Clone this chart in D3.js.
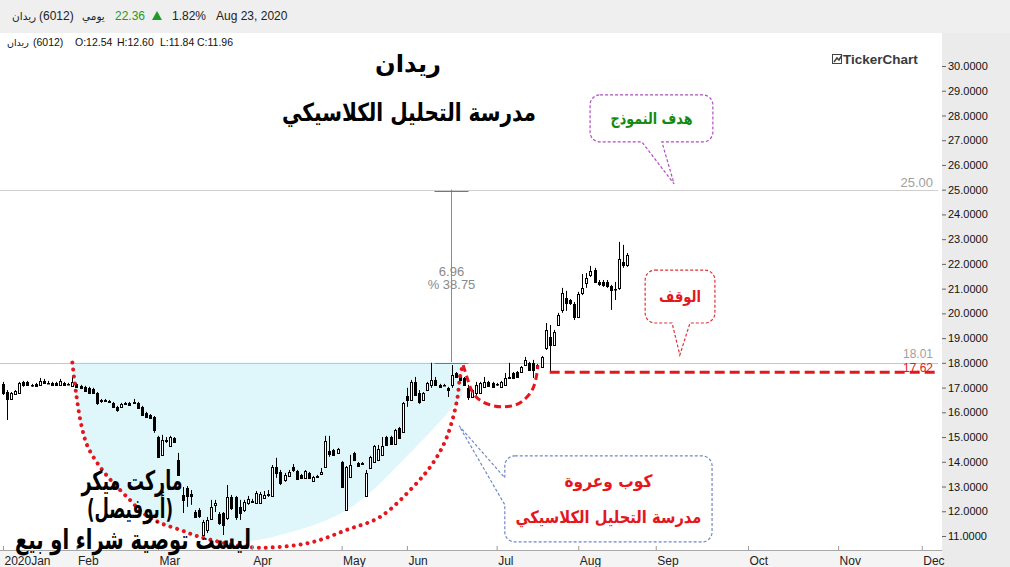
<!DOCTYPE html>
<html>
<head>
<meta charset="utf-8">
<script src="https://cdn.jsdelivr.net/npm/d3@7"></script>
<style>
  body { margin: 0; background: #fff; }
  svg { display: block; }
  text { font-family: "Liberation Sans", Arial, sans-serif; }
  .ar { font-family: "DejaVu Sans", sans-serif; }
</style>
</head>
<body>
<div id="chart"></div>
<script>
// daily candles, 2020-01 .. 2020-08-23 (one entry per trading day)
var opens  = [17.15,16.82,16.54,16.74,16.78,17.23,17.23,17.09,17.15,17.11,17.27,17.19,17.19,17.19,17.11,17.19,17.15,17.07,17.15,17.07,
              17.03,16.99,16.94,16.78,16.46,16.50,16.46,16.38,16.22,16.22,16.34,16.38,16.38,16.38,16.22,15.98,15.89,15.81,15.00,14.28,
              14.84,14.64,14.96,14.08,12.66,12.94,12.70,11.97,12.05,11.04,11.25,11.69,12.26,11.89,11.93,11.73,12.58,12.58,12.18,12.05,
              12.34,12.38,12.34,12.34,12.54,12.66,12.62,13.79,13.59,13.27,13.43,13.79,13.63,13.47,13.35,13.55,13.23,13.39,13.51,13.79,
              14.44,14.48,14.36,13.99,12.05,13.39,14.36,13.95,13.95,12.62,13.75,13.99,14.08,14.28,15.00,15.00,14.72,15.37,15.21,16.66,
              16.50,17.23,16.78,16.50,16.90,17.11,17.31,17.11,17.11,16.99,17.11,17.59,17.43,17.39,16.99,16.62,16.78,16.78,17.03,17.23,
              17.19,17.15,17.03,17.11,17.43,17.59,17.63,17.63,17.91,18.00,18.00,17.91,17.83,18.60,19.05,18.72,19.53,20.14,20.62,20.54,
              20.38,19.86,20.83,21.23,21.55,21.75,21.27,21.27,21.27,21.11,20.99,21.03,22.08,21.96];
var highs  = [17.23,16.90,16.82,16.90,17.23,17.27,17.27,17.15,17.19,17.39,17.35,17.27,17.23,17.23,17.35,17.23,17.19,17.43,17.19,17.11,
              17.07,17.03,16.99,16.82,16.54,16.54,16.50,16.42,16.26,16.38,16.42,16.42,16.54,16.42,16.26,16.02,15.93,15.85,15.05,15.09,
              15.00,15.05,15.00,14.36,12.98,13.02,12.86,12.05,12.13,11.65,11.77,12.46,12.46,11.97,11.97,13.06,12.66,12.62,12.46,12.46,
              12.62,12.50,12.82,12.78,12.82,12.86,13.87,14.16,13.67,13.55,13.67,13.91,13.67,13.51,13.67,13.59,13.43,13.47,13.75,15.05,
              15.05,14.52,14.56,14.03,13.83,14.28,14.40,13.99,13.99,13.67,14.24,14.68,14.68,15.00,15.05,15.05,15.33,15.41,16.42,16.99,
              17.31,17.43,16.90,16.82,17.23,18.00,17.43,17.15,17.15,17.03,17.91,17.63,17.47,17.43,17.11,16.94,17.23,17.23,17.43,17.27,
              17.23,17.19,17.27,17.59,18.00,17.63,17.67,17.87,18.24,18.04,18.12,17.95,18.28,19.61,19.53,19.33,20.02,21.03,20.91,20.58,
              20.46,20.87,21.59,21.63,21.92,21.84,21.35,21.35,21.35,21.15,21.27,22.89,22.77,22.44];
var lows   = [16.70,15.69,16.50,16.70,16.74,17.03,17.07,17.03,17.03,17.07,17.15,17.15,17.07,17.07,17.07,17.07,17.11,17.03,16.99,16.94,
              16.82,16.74,16.74,16.30,16.38,16.42,16.38,16.18,16.02,16.18,16.30,16.26,16.34,16.14,15.85,15.77,15.73,15.17,14.16,14.24,
              14.76,14.60,14.76,13.43,11.93,12.18,12.26,11.73,11.73,10.96,11.12,11.65,11.97,11.45,11.04,11.65,12.05,11.65,11.65,11.97,
              12.26,12.34,12.30,12.30,12.50,12.58,12.58,13.35,13.06,13.19,13.39,13.59,13.27,13.31,13.31,13.31,13.19,13.35,13.47,13.75,
              14.20,14.24,14.32,12.94,12.01,13.35,14.03,13.79,13.87,12.58,13.71,13.95,14.03,14.24,14.64,14.68,14.68,14.92,15.17,16.22,
              16.46,16.66,16.34,16.46,16.86,16.99,17.07,16.99,17.07,16.62,16.99,17.39,17.27,17.07,16.50,16.58,16.58,16.74,16.99,17.03,
              16.99,17.07,16.99,17.07,17.35,17.35,17.39,17.59,17.87,17.67,17.39,17.75,17.79,18.52,17.62,18.68,19.49,20.02,20.10,20.34,
              19.73,19.81,20.74,21.03,21.47,21.23,21.11,21.07,21.03,20.14,20.54,20.95,21.84,21.88];
var closes = [16.78,16.54,16.78,16.86,17.19,17.11,17.11,17.07,17.07,17.27,17.19,17.17,17.11,17.11,17.27,17.11,17.13,17.23,17.03,16.99,
              16.86,16.78,16.78,16.38,16.50,16.46,16.42,16.22,16.10,16.34,16.38,16.30,16.42,16.18,15.89,15.81,15.77,15.29,14.20,14.88,
              14.88,15.00,14.80,13.47,12.46,12.62,12.62,11.77,11.81,11.57,11.65,12.18,12.34,11.53,11.45,12.58,12.13,11.77,11.93,12.38,
              12.50,12.42,12.74,12.70,12.66,12.70,13.79,13.55,13.15,13.47,13.59,13.67,13.31,13.35,13.63,13.35,13.39,13.43,13.59,14.84,
              14.32,14.28,14.52,12.98,13.79,13.87,14.08,13.83,13.91,13.55,14.20,14.64,14.52,14.64,14.68,14.72,15.29,14.96,16.38,16.50,
              17.23,16.70,16.42,16.78,17.19,17.31,17.11,17.03,17.09,16.90,17.51,17.43,17.31,17.11,16.62,16.90,17.11,17.19,17.23,17.07,
              17.03,17.13,17.23,17.39,17.39,17.39,17.43,17.83,18.12,17.71,17.71,17.79,18.24,19.33,18.72,19.25,19.94,20.83,20.42,20.42,
              19.86,20.78,21.03,21.43,21.71,21.27,21.19,21.15,21.11,20.95,20.97,22.20,21.96,22.36];

// x axis: month labels and the candle index where each month starts
var monthLabels = ["2020Jan", "Feb", "Mar", "Apr", "May", "Jun", "Jul", "Aug", "Sep", "Oct", "Nov", "Dec"];
var monthIndex  = [0, 18, 38, 61, 83, 99, 121, 141, 160, 182.6, 204.7, 225.2];
var yTicks = d3.range(11, 31);

// drawn levels
var targetLevel = 25.00, breakoutLevel = 18.01, stopLevel = 17.62, stopIndex = 134;
var measureIndex = 110, measureFrom = 18.04, measureTo = 25.00;
var measureText = ["6.96", "% 38.75"];

// cup (dotted) and handle (dashed) drawn on the chart: [index, price]
var cupArc = [[17,18.01],[17.9,16.78],[19.3,15.41],[20.8,14.6],[23.8,13.79],[27,13.15],[31.1,12.46],[34.3,11.93],
              [38.5,11.53],[43.4,11.25],[48.3,10.96],[59.8,10.56],[67.9,10.56],[76,10.76],[84.3,11.25],[92.4,11.77],
              [100.5,12.98],[105.4,13.95],[108.8,15.0],[111.3,16.5],[112,17.43],[112.7,17.91]];
var handleArc = [[112.8,17.91],[113.7,17.43],[115.2,16.78],[117.6,16.42],[122.3,16.22],[126.7,16.38],[129.7,16.9],[130.9,17.59],[131.1,17.91]];
var cupFill = [[17,18.01],[17.9,16.78],[19.3,15.41],[20.8,14.6],[23.8,13.79],[27,13.15],[31.1,12.46],[34.3,11.93],
               [38.5,11.53],[43.4,11.25],[48.3,10.96],[59.8,10.8],[67.9,11.04],[84.3,12.05],[100.5,14.48],[110.3,16.22],[112.5,16.7],[112.5,18.01]];

// header
var headerName = "ريدان", headerCode = "(6012)", headerPeriod = "يومي", lastPrice = "22.36", changePct = "1.82%", lastDate = "Aug 23, 2020";
var ohlcLabels = ["O:12.54", "H:12.60", "L:11.84", "C:11.96"];

var W = 1010, H = 567;
var plotRight = 942, plotTop = 34, plotBottom = 550;

var svg = d3.select("#chart").append("svg").attr("width", W).attr("height", H);

var x = d3.scaleLinear().domain([0, 153]).range([3, 627.2]);
var y = d3.scaleLinear().domain([11, 30]).range([536, 66]);

// backgrounds
svg.append("rect").attr("x", 0).attr("y", 0).attr("width", W).attr("height", H).attr("fill", "#fff");
svg.append("rect").attr("x", 0).attr("y", 0).attr("width", W).attr("height", plotTop - 1).attr("fill", "#efefef");
svg.append("rect").attr("x", plotRight).attr("y", plotTop - 1).attr("width", W - plotRight).attr("height", H).attr("fill", "#ebebeb");
svg.append("rect").attr("x", 0).attr("y", plotBottom).attr("width", plotRight).attr("height", H - plotBottom).attr("fill", "#f4f4f4");

var plot = svg.append("g");

// cup shading
plot.append("path")
    .datum(cupFill)
    .attr("d", d3.line().x(function(d) { return x(d[0]); }).y(function(d) { return y(d[1]); }).curve(d3.curveCatmullRom))
    .attr("fill", "#dff7fa");

// level lines
plot.append("line").attr("x1", 0).attr("x2", plotRight - 4)
    .attr("y1", Math.round(y(targetLevel)) + 0.5).attr("y2", Math.round(y(targetLevel)) + 0.5)
    .attr("stroke", "#cfcfcf");
plot.append("line").attr("x1", 0).attr("x2", plotRight - 4)
    .attr("y1", Math.round(y(breakoutLevel)) + 0.5).attr("y2", Math.round(y(breakoutLevel)) + 0.5)
    .attr("stroke", "#bccaca");
plot.append("text").attr("x", 933).attr("y", y(targetLevel) - 3).attr("text-anchor", "end")
    .attr("font-size", 13).attr("fill", "#a0a0a0").text(targetLevel.toFixed(2));
plot.append("text").attr("x", 933).attr("y", y(breakoutLevel) - 4.5).attr("text-anchor", "end")
    .attr("font-size", 12).attr("fill", "#a0a0a0").text(breakoutLevel.toFixed(2));

// measure tool
var mx = Math.round(x(measureIndex)) - 0.5;
plot.append("line").attr("x1", mx).attr("x2", mx).attr("y1", y(measureTo)).attr("y2", y(measureFrom))
    .attr("stroke", "#8c8c8c");
[measureTo, measureFrom].forEach(function(v) {
    plot.append("line").attr("x1", mx - 17).attr("x2", mx + 17)
        .attr("y1", Math.round(y(v)) + 1.5).attr("y2", Math.round(y(v)) + 1.5)
        .attr("stroke", "#777");
});
plot.selectAll(".mtxt").data(measureText).enter().append("text")
    .attr("x", mx).attr("y", function(d, i) { return 276 + i * 13; })
    .attr("text-anchor", "middle").attr("font-size", 13).attr("fill", "#8a8a8a")
    .text(function(d) { return d; });

// candles
var idx = d3.range(opens.length);
var candles = plot.append("g");
candles.selectAll(".wick").data(idx).enter().append("line")
    .attr("x1", function(i) { return Math.round(x(i)) + 0.5; })
    .attr("x2", function(i) { return Math.round(x(i)) + 0.5; })
    .attr("y1", function(i) { return y(highs[i]); })
    .attr("y2", function(i) { return y(lows[i]); })
    .attr("stroke", "#000");
candles.selectAll(".body").data(idx).enter().append("rect")
    .attr("x", function(i) { return Math.round(x(i)) - 0.5; })
    .attr("width", 2)
    .attr("y", function(i) { return Math.round(y(Math.max(opens[i], closes[i]))) + 0.5; })
    .attr("height", function(i) { return Math.max(0.5, Math.round(Math.abs(y(opens[i]) - y(closes[i])))); })
    .attr("fill", function(i) { return closes[i] < opens[i] ? "#000" : "#fff"; })
    .attr("stroke", "#000");

// cup & handle curves
var lineGen = d3.line().x(function(d) { return x(d[0]); }).y(function(d) { return y(d[1]); }).curve(d3.curveCatmullRom);
plot.append("path").datum(cupArc).attr("d", lineGen)
    .attr("fill", "none").attr("stroke", "#e3171d").attr("stroke-width", 4)
    .attr("stroke-linecap", "round").attr("stroke-dasharray", "0.01,7");
plot.append("path").datum(handleArc).attr("d", lineGen)
    .attr("fill", "none").attr("stroke", "#e3171d").attr("stroke-width", 3)
    .attr("stroke-dasharray", "7,4");

// stop line
plot.append("line").attr("x1", x(stopIndex)).attr("x2", plotRight - 5)
    .attr("y1", y(stopLevel)).attr("y2", y(stopLevel))
    .attr("stroke", "#e3171d").attr("stroke-width", 3).attr("stroke-dasharray", "10,5");
plot.append("text").attr("x", 933).attr("y", y(stopLevel) - 0.5).attr("text-anchor", "end")
    .attr("font-size", 12).attr("fill", "#e3171d").text(stopLevel.toFixed(2));

// axes
var yAxis = svg.append("g").attr("transform", "translate(" + plotRight + ",0)")
    .call(d3.axisRight(y).tickValues(yTicks).tickFormat(d3.format(".4f")).tickSize(4).tickPadding(2));
yAxis.select(".domain").remove();
yAxis.selectAll("line").attr("stroke", "#666");
yAxis.selectAll("text").attr("font-size", 11).attr("fill", "#111").attr("font-family", "Liberation Sans, Arial");

svg.append("line").attr("x1", 0).attr("x2", plotRight).attr("y1", plotBottom + 0.5).attr("y2", plotBottom + 0.5)
    .attr("stroke", "#a8a8a8");
var xAxis = svg.append("g").attr("transform", "translate(0," + plotBottom + ")")
    .call(d3.axisBottom(x).tickValues(monthIndex).tickSize(-4).tickPadding(6)
        .tickFormat(function(d, i) { return monthLabels[i]; }));
xAxis.select(".domain").remove();
xAxis.selectAll("line").attr("stroke", "#999");
xAxis.selectAll("text").attr("font-size", 12).attr("fill", "#222").attr("text-anchor", "start").attr("x", 1)
    .attr("font-family", "Liberation Sans, Arial");

// speech bubbles
function bubblePath(b) {
    var x0 = x(b.i0), x1 = x(b.i1), y0 = y(b.p0), y1 = y(b.p1), r = 10;
    var p = d3.path();
    p.moveTo(x0 + r, y0);
    p.lineTo(x1 - r, y0); p.arcTo(x1, y0, x1, y0 + r, r);
    p.lineTo(x1, y1 - r); p.arcTo(x1, y1, x1 - r, y1, r);
    if (b.side === "bottom") {
        p.lineTo(x(b.tb), y1); p.lineTo(x(b.ti), y(b.tp)); p.lineTo(x(b.ta), y1);
    }
    p.lineTo(x0 + r, y1); p.arcTo(x0, y1, x0, y1 - r, r);
    if (b.side === "left") {
        p.lineTo(x0, y(b.tb)); p.lineTo(x(b.ti), y(b.tp)); p.lineTo(x0, y(b.ta));
    }
    p.lineTo(x0, y0 + r); p.arcTo(x0, y0, x0 + r, y0, r);
    p.closePath();
    return p.toString();
}
var bubbles = [
    {i0: 143.9, i1: 174.0, p0: 28.83, p1: 26.93, side: "bottom", ta: 156.6, tb: 161.5, ti: 164.5, tp: 25.23,
     stroke: "#b04cc0", color: "#138a13", lines: ["هدف النموذج"], size: 16, widths: [82]},
    {i0: 157.4, i1: 174.5, p0: 21.75, p1: 19.61, side: "bottom", ta: 164.0, tb: 168.4, ti: 165.9, tp: 18.32,
     stroke: "#e0303a", color: "#e3171d", lines: ["الوقف"], size: 16, widths: [42]},
    {i0: 123.0, i1: 173.8, p0: 14.24, p1: 10.76, side: "left", ta: 13.35, tb: 12.26, ti: 111.8, tp: 15.45,
     stroke: "#7088cc", color: "#e3171d", lines: ["كوب وعروة", "مدرسة التحليل الكلاسيكي"], size: 17, widths: [88, 186]}
];
bubbles.forEach(function(b) {
    svg.append("path").attr("d", bubblePath(b))
        .attr("fill", "#fff").attr("stroke", b.stroke).attr("stroke-width", 1.2).attr("stroke-dasharray", "3,2");
    var cx = (x(b.i0) + x(b.i1)) / 2, cy = (y(b.p0) + y(b.p1)) / 2;
    var n = b.lines.length;
    b.lines.forEach(function(t, k) {
        svg.append("text").attr("class", "ar")
            .attr("x", cx).attr("y", cy + (k - (n - 1) / 2) * 36)
            .attr("dy", "0.35em").attr("text-anchor", "middle")
            .attr("font-size", b.size).attr("font-weight", "bold").attr("fill", b.color)
            .attr("textLength", b.widths[k]).attr("lengthAdjust", "spacingAndGlyphs")
            .text(t);
    });
});

// titles
svg.append("text").attr("class", "ar").attr("x", 408).attr("y", 72).attr("text-anchor", "middle")
    .attr("font-size", 24).attr("font-weight", "bold").attr("fill", "#000")
    .attr("textLength", 66).attr("lengthAdjust", "spacingAndGlyphs")
    .text("ريدان");
svg.append("text").attr("class", "ar").attr("x", 409).attr("y", 121).attr("text-anchor", "middle")
    .attr("font-size", 25).attr("font-weight", "bold").attr("fill", "#000")
    .attr("textLength", 254).attr("lengthAdjust", "spacingAndGlyphs")
    .text("مدرسة التحليل الكلاسيكي");

var disclaimer = ["ماركت ميكر", "(أبوفيصل)", "ليست توصية شراء او بيع"];
var discWidths = [101, 86, 236], discY = [490, 518, 549], discX = [132, 130, 133];
disclaimer.forEach(function(t, k) {
    svg.append("text").attr("class", "ar").attr("x", discX[k]).attr("y", discY[k]).attr("text-anchor", "middle")
        .attr("font-size", 27).attr("font-weight", "bold").attr("fill", "#000")
        .attr("textLength", discWidths[k]).attr("lengthAdjust", "spacingAndGlyphs")
        .text(t);
});

// logo
svg.append("rect").attr("x", 832.5).attr("y", 54.5).attr("width", 9).attr("height", 9)
    .attr("fill", "none").attr("stroke", "#444");
svg.append("path").attr("d", "M834,62 L837,58 L839,60 L842,55").attr("fill", "none").attr("stroke", "#444").attr("stroke-width", 1.5);
svg.append("text").attr("x", 843).attr("y", 64).attr("font-size", 13.5).attr("font-weight", "bold")
    .attr("fill", "#3a3a3a").text("TickerChart");

// header bar
var hdr = svg.append("g").attr("font-size", 12).attr("fill", "#222");
hdr.append("text").attr("class", "ar").attr("x", 12).attr("y", 20).attr("font-size", 10.5).text(headerName);
hdr.append("text").attr("x", 39).attr("y", 20).text(headerCode);
hdr.append("text").attr("class", "ar").attr("x", 82).attr("y", 20).attr("font-size", 10.5).text(headerPeriod);
hdr.append("text").attr("x", 115).attr("y", 20).attr("fill", "#1f9a2a").text(lastPrice);
hdr.append("path").attr("d", "M152,20 L157,11 L162,20 Z").attr("fill", "#1f9a2a");
hdr.append("text").attr("x", 172).attr("y", 20).text(changePct);
hdr.append("text").attr("x", 216).attr("y", 20).text(lastDate);

var sub = svg.append("g").attr("font-size", 10.5).attr("fill", "#111");
sub.append("text").attr("class", "ar").attr("x", 7).attr("y", 46).attr("font-size", 9.5).text(headerName);
sub.append("text").attr("x", 33).attr("y", 46).text(headerCode);
var ohlcX = [75, 117, 160, 197];
ohlcLabels.forEach(function(t, k) {
    sub.append("text").attr("x", ohlcX[k]).attr("y", 46).text(t);
});
</script>
</body>
</html>
